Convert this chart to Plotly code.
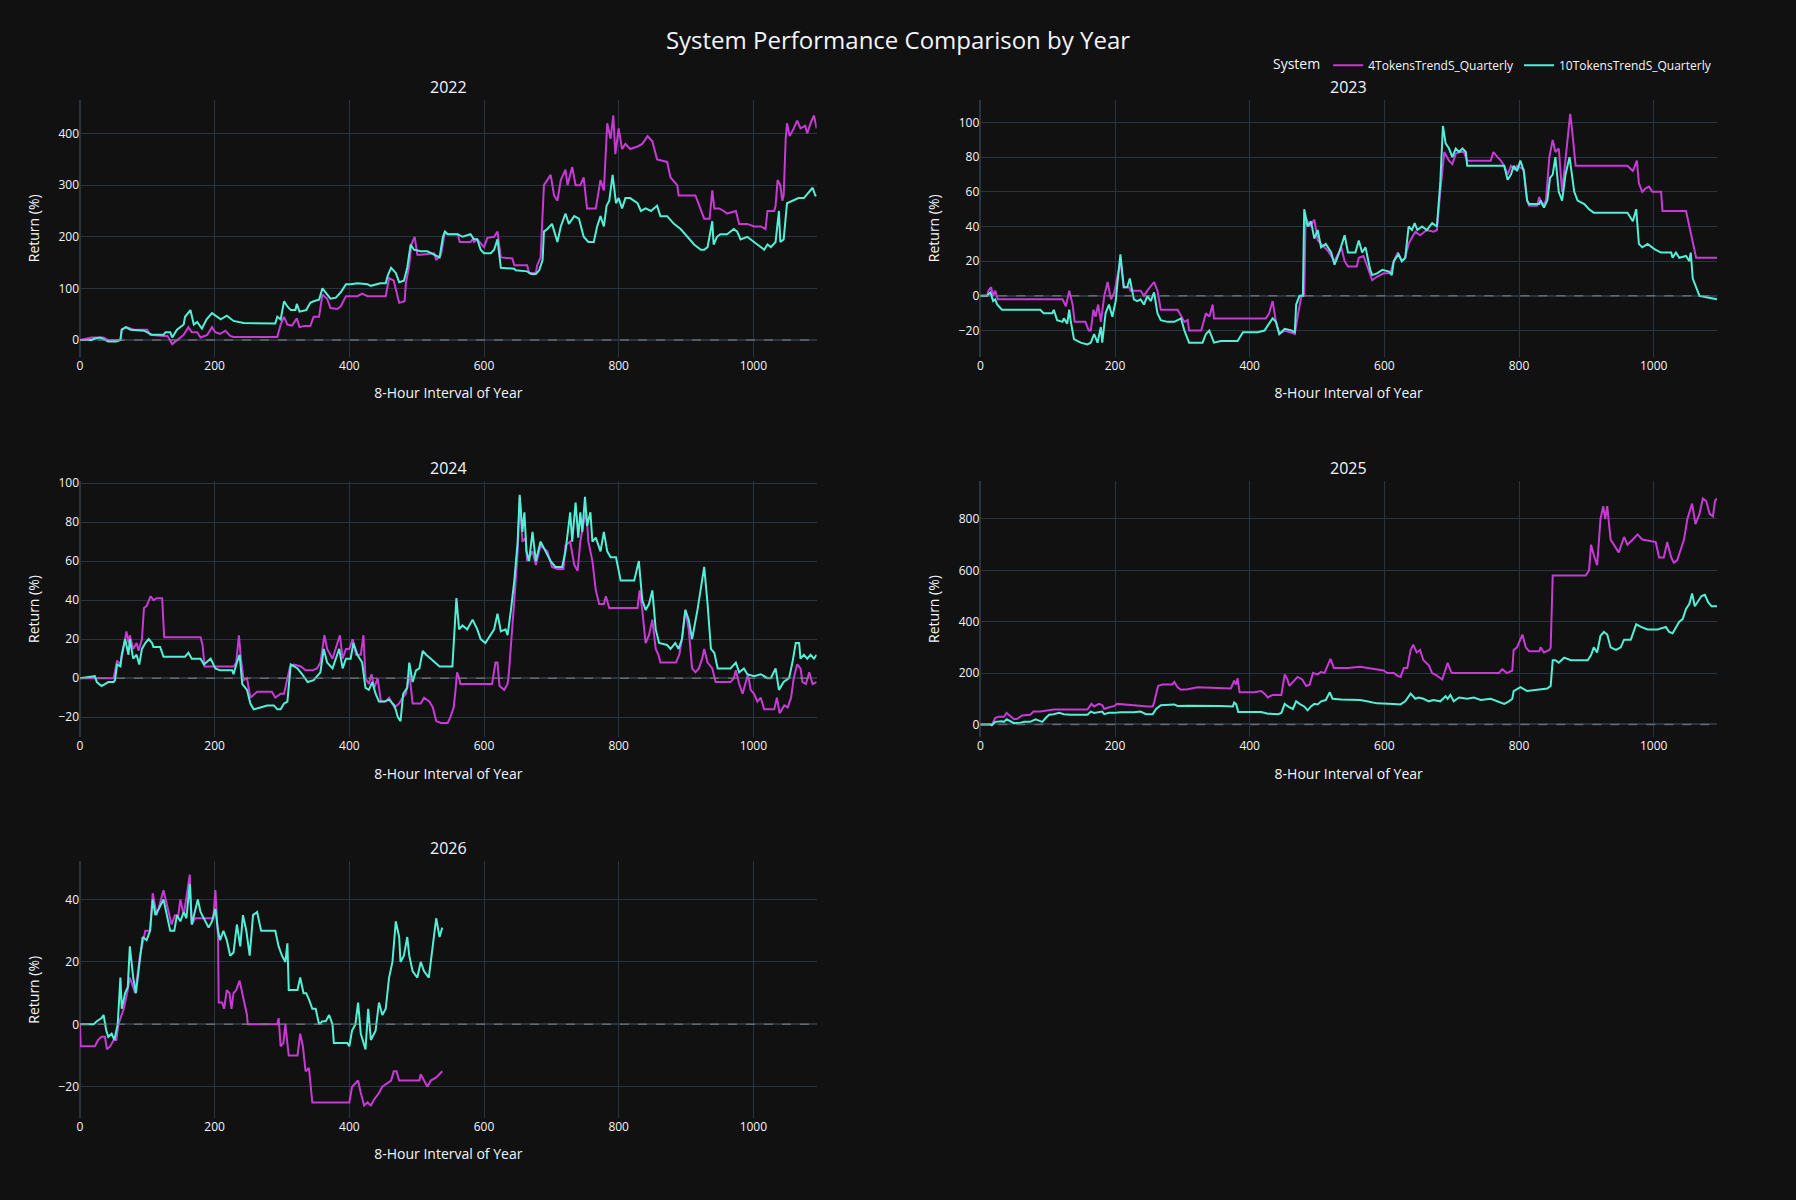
import plotly.graph_objects as go
from plotly.subplots import make_subplots

years = ["2022", "2023", "2024", "2025", "2026"]
systems = ["4TokensTrendS_Quarterly", "10TokensTrendS_Quarterly"]
colors = {"4TokensTrendS_Quarterly": "#c83ad6", "10TokensTrendS_Quarterly": "#52f0d6"}

# ---------------- 2022 ----------------
x22_4 = [0,17,35,42,60,62,69,80,100,104,124,130,137,144,154,161,166,174,179,189,196,201,208,216,223,228,293,298,303,308,315,322,326,333,342,347,355,360,367,372,382,387,395,402,412,419,427,454,459,466,471,474,482,484,489,492,497,501,506,526,529,536,542,546,561,564,580,583,585,590,600,605,615,620,625,642,645,664,667,677,679,684,689,694,699,704,709,714,721,724,731,736,743,748,753,766,773,778,783,788,792,795,800,805,810,817,828,835,843,850,857,872,877,887,889,914,922,927,935,939,942,949,956,961,974,979,991,1001,1011,1018,1021,1031,1033,1036,1040,1043,1045,1048,1050,1054,1060,1065,1070,1077,1080,1085,1090,1094]
y22_4 = [0,5,5,0,0,20,25,20,20,10,8,8,-8,0,10,25,15,15,5,10,25,15,12,18,8,6,6,30,45,30,28,42,25,27,27,45,45,88,80,62,60,65,85,85,85,90,85,85,120,115,90,72,75,110,145,185,200,165,165,168,155,165,210,205,205,190,190,195,190,195,180,198,200,210,160,158,145,145,130,130,145,160,300,310,320,280,270,310,330,300,335,300,300,315,255,255,310,290,420,390,435,360,410,370,380,370,375,380,395,385,350,345,315,300,280,280,250,235,235,290,255,255,250,245,250,225,225,220,220,215,250,250,260,310,300,270,280,390,420,395,410,425,410,415,400,420,435,410]
x22_10 = [0,17,22,30,42,54,60,62,68,75,95,100,107,124,127,134,137,144,154,156,164,169,174,181,188,196,204,209,218,228,243,290,293,298,303,308,313,320,322,326,336,342,347,355,360,365,372,380,387,395,402,412,427,432,446,454,457,462,469,474,481,486,491,496,506,516,526,534,539,542,546,561,568,580,585,590,595,600,610,615,620,625,645,647,664,670,677,682,687,689,694,701,709,714,721,726,734,741,748,755,763,768,773,778,782,786,791,796,800,805,810,817,828,833,840,848,857,862,872,882,892,902,912,922,927,932,939,941,946,951,961,971,976,981,991,1001,1011,1016,1021,1026,1033,1038,1040,1045,1050,1060,1067,1075,1082,1088,1092,1094]
y22_10 = [0,0,3,5,-3,-3,0,20,25,20,18,15,10,10,15,15,5,20,30,45,58,30,35,22,40,52,45,40,47,37,33,32,45,40,75,65,58,58,70,55,58,72,75,78,100,92,80,82,92,108,108,110,108,105,110,110,125,140,130,112,115,140,185,175,172,172,165,160,200,210,205,205,200,205,195,195,175,168,168,175,195,140,138,135,133,128,128,135,155,210,215,225,190,220,245,225,240,235,200,190,190,220,240,220,260,270,320,265,275,255,275,275,265,250,255,250,260,240,240,225,215,200,185,175,175,180,230,185,200,205,205,215,210,195,200,190,180,175,185,180,190,250,190,195,265,270,275,275,285,295,280,280]

# ---------------- 2023 ----------------
x23_4 = [0,10,12,16,19,22,26,122,127,132,137,140,156,161,164,168,171,175,179,184,189,194,199,203,208,213,221,223,238,243,248,258,263,268,293,296,303,308,310,328,335,340,345,347,424,429,434,439,444,452,467,472,477,481,483,490,496,501,506,516,526,536,541,546,559,562,569,574,579,582,589,599,609,614,620,626,631,636,640,646,653,663,673,678,683,689,696,701,706,711,718,723,758,762,768,773,778,783,788,793,797,807,812,815,827,830,835,840,845,850,854,859,864,869,876,879,884,961,969,975,978,983,988,993,998,1011,1013,1048,1053,1058,1063,1094]
y23_4 = [0,0,3,5,0,3,-2,-2,-6,3,-5,-15,-15,-20,-20,-8,-12,-5,-15,0,8,-2,2,10,20,5,5,3,3,0,3,8,3,-8,-8,-10,-15,-14,-20,-20,-10,-12,-5,-13,-13,-10,-3,-15,-22,-20,-22,-10,0,0,45,40,44,32,30,26,20,28,20,17,17,22,23,18,12,9,11,13,13,20,25,20,22,30,33,37,35,38,37,38,60,83,78,76,82,83,83,78,78,83,80,78,75,70,75,73,75,73,55,52,52,57,52,55,80,90,83,85,60,80,105,95,75,75,72,78,65,60,62,63,60,60,49,49,40,30,22,22]
x23_10 = [0,10,12,15,19,22,25,32,89,94,107,109,114,122,124,129,132,134,139,149,159,164,169,174,179,181,186,191,196,201,203,208,213,218,222,228,233,238,243,248,253,258,263,268,278,288,298,303,310,330,335,340,347,357,382,390,412,422,427,434,439,444,452,462,467,469,474,479,481,486,491,496,501,506,513,521,526,533,541,546,557,562,567,572,579,582,589,597,607,611,614,621,626,631,636,641,645,649,656,663,671,678,683,687,691,696,701,706,711,716,721,723,778,780,783,788,792,797,802,807,812,815,830,832,837,842,846,850,854,859,864,869,875,882,887,897,904,911,916,961,969,974,978,983,991,1001,1011,1026,1028,1033,1038,1048,1053,1055,1058,1063,1068,1080,1094]
y23_10 = [0,0,1,2,-3,-2,-5,-8,-8,-10,-10,-8,-14,-15,-13,-16,-8,-14,-25,-27,-28,-27,-22,-27,-18,-27,-10,-5,-12,-3,5,24,5,5,10,-2,-3,-2,-5,0,-3,2,-10,-14,-15,-15,-13,-20,-27,-27,-22,-20,-27,-26,-26,-21,-21,-20,-17,-13,-15,-22,-19,-20,-21,-5,0,0,50,40,43,33,38,28,30,25,18,25,35,25,25,32,25,28,15,12,13,15,14,12,20,24,20,22,40,38,42,38,40,38,42,40,65,98,88,85,80,85,83,85,83,75,75,72,67,70,75,72,78,72,55,53,53,55,51,55,68,70,80,60,55,70,80,60,55,53,50,48,48,48,43,50,30,28,30,27,25,25,22,25,22,23,20,25,10,5,0,-1,-2]

# ---------------- 2024 ----------------
x24_4 = [0,50,55,60,69,72,74,79,84,87,92,95,99,105,109,114,122,125,179,182,185,228,232,236,239,243,248,253,263,285,290,298,303,308,312,318,328,335,345,352,357,363,367,375,380,386,390,395,400,405,410,417,421,424,429,433,437,442,447,454,459,467,474,479,484,489,494,506,511,519,524,529,536,546,550,555,558,560,563,565,612,617,620,623,630,635,637,641,645,650,653,657,662,664,672,677,684,694,701,709,718,721,728,734,739,743,748,752,755,761,766,771,778,781,786,828,831,835,840,845,850,855,859,862,885,890,894,899,904,909,914,919,924,927,932,939,944,966,971,974,979,984,989,992,996,1001,1006,1011,1016,1031,1035,1039,1046,1051,1056,1060,1065,1070,1073,1078,1083,1088,1094]
y24_4 = [0,0,9,7,24,18,22,15,18,14,20,36,37,42,40,41,41,21,21,17,6,6,8,22,10,-1,0,-10,-7,-7,-10,-8,-8,0,6,7,6,4,4,5,8,22,15,10,15,22,10,15,15,20,12,12,22,0,-3,2,-5,0,-12,-12,-10,-15,-13,-10,-8,3,-13,-13,-10,-12,-15,-22,-23,-23,-20,-15,-5,3,0,-3,-3,8,8,-4,-6,-3,3,20,40,65,93,70,72,60,65,58,68,65,57,56,56,68,70,58,55,70,80,85,70,60,45,38,38,42,36,36,45,35,18,22,30,15,12,8,8,12,20,35,25,5,3,5,10,15,8,5,-2,-2,0,4,-3,-8,-2,2,-6,-8,-12,-10,-16,-16,-10,-18,-14,-15,-10,0,7,5,-2,-3,3,-3,-2]
x24_10 = [0,22,25,32,37,42,50,52,55,60,62,67,72,74,79,84,88,92,97,102,107,109,119,124,156,161,166,179,184,194,201,208,226,228,233,237,241,248,253,258,268,278,288,293,298,303,308,313,318,323,330,338,347,357,362,367,375,380,385,390,395,402,406,412,419,424,429,434,439,444,452,459,467,472,476,480,486,489,494,499,504,509,514,521,528,534,553,557,559,563,568,575,583,590,595,602,609,615,620,625,632,635,640,645,650,653,657,660,663,667,672,677,684,692,699,706,716,721,728,731,736,740,743,746,750,753,758,761,766,773,778,783,788,796,803,823,830,835,840,845,850,855,860,872,877,884,889,894,899,904,909,917,922,927,932,937,942,947,966,974,979,986,991,1001,1011,1021,1026,1033,1038,1045,1053,1058,1063,1068,1070,1075,1080,1085,1090,1094]
y24_10 = [0,1,-2,-4,-3,-2,-2,-1,7,6,12,20,12,20,10,12,7,15,18,20,18,16,16,11,11,13,10,10,7,10,5,4,4,2,8,12,-3,-6,-13,-16,-15,-14,-14,-16,-16,-13,-12,7,6,5,2,-2,-1,3,15,8,5,10,15,5,10,10,18,12,8,-5,-6,-2,-8,-12,-12,-11,-14,-20,-22,-8,-5,8,-2,4,5,14,12,10,8,6,6,28,41,25,27,25,30,25,20,18,22,25,33,24,25,22,35,50,70,94,75,85,65,60,75,60,70,65,60,57,57,65,85,70,90,72,85,75,93,78,85,70,72,65,75,65,62,62,50,50,60,40,35,38,45,25,18,17,15,18,15,20,35,30,20,35,45,57,38,15,13,5,5,8,3,5,2,1,2,0,0,5,-6,-2,0,8,18,18,10,12,10,12,10,12]

# ---------------- 2025 ----------------
x25_4 = [0,15,17,22,27,35,39,44,50,55,62,74,79,89,99,109,159,165,169,176,181,184,189,199,203,218,228,248,256,258,264,270,285,288,293,298,308,323,357,372,377,380,382,385,407,417,422,427,434,447,452,456,459,464,471,478,484,489,494,501,506,511,516,520,525,546,564,574,584,599,604,614,619,624,629,634,639,643,648,653,658,666,671,678,686,691,694,699,701,770,775,782,790,792,797,805,810,815,830,832,837,845,847,850,899,904,907,911,916,921,925,928,931,936,941,948,956,961,969,976,983,1003,1008,1015,1020,1026,1030,1035,1040,1045,1050,1057,1062,1068,1073,1078,1083,1088,1091,1094]
y25_4 = [0,0,-3,25,30,30,45,35,20,22,35,38,50,50,55,58,58,80,70,80,75,60,65,72,80,78,75,70,70,85,150,155,155,165,145,135,137,145,140,140,170,155,180,125,125,130,120,105,115,115,195,175,150,165,185,175,150,155,200,195,205,200,230,255,220,220,225,220,215,210,200,200,190,185,220,220,290,310,280,290,250,230,200,190,175,215,240,205,200,200,215,200,210,290,300,350,300,285,285,300,280,290,300,580,580,600,700,660,620,800,850,800,850,720,700,670,730,700,720,740,720,710,650,650,710,650,630,640,680,720,800,860,780,820,880,870,820,810,870,880]
x25_10 = [0,15,17,22,32,35,39,45,50,60,65,74,82,87,92,97,102,109,117,124,134,159,164,169,181,184,191,199,208,228,238,246,256,261,268,288,293,308,333,357,375,377,380,383,417,427,442,447,452,457,464,469,474,481,486,491,496,501,506,513,519,523,536,564,574,589,614,624,631,639,646,651,658,666,673,683,691,694,698,703,711,723,733,743,758,768,778,785,790,792,802,812,827,842,847,850,854,859,867,877,902,907,911,916,921,926,931,936,944,951,956,966,974,981,991,1006,1018,1023,1028,1033,1038,1043,1048,1053,1057,1061,1066,1071,1076,1081,1086,1094]
y25_10 = [0,0,-3,10,12,10,20,10,5,7,10,10,20,15,10,25,38,40,45,40,38,38,50,45,50,40,45,45,47,47,50,40,40,60,75,78,72,73,73,72,70,85,78,48,48,42,40,45,80,70,60,90,80,70,55,70,80,78,90,95,125,100,97,95,90,82,80,78,90,120,100,105,100,90,95,90,110,100,115,90,105,100,105,95,100,90,80,90,100,130,145,130,135,140,150,250,250,240,260,250,250,270,300,280,345,360,350,300,290,300,330,330,390,380,370,370,380,360,355,380,400,410,450,470,510,460,480,500,505,475,460,460]

# ---------------- 2026 ----------------
x26_4 = [0,1,22,27,32,37,40,45,50,54,57,65,70,74,82,89,97,104,108,114,124,129,136,141,146,149,154,163,166,171,198,201,205,206,211,214,218,222,225,228,232,237,241,244,248,249,293,295,298,302,305,310,323,327,331,335,340,345,397,400,404,408,413,417,422,427,432,437,444,449,456,462,466,470,474,504,506,511,516,521,529,538]
y26_4 = [0,-7,-7,-5,-4,-4,-8,-7,-5,-5,0,5,10,15,10,22,30,30,42,35,43,38,32,35,35,40,35,48,32,34,34,43,28,7,7,5,11,10,5,10,11,14,10,8,3,0,0,2,-7,-6,0,-10,-10,-3,-7,-15,-14,-25,-25,-25,-20,-19,-18,-22,-26,-25,-26,-24,-22,-20,-19,-18,-15,-15,-18,-18,-16,-18,-20,-18,-17,-15]
x26_10 = [0,20,25,32,35,39,42,47,51,56,60,62,67,71,74,79,83,88,93,99,104,108,112,117,124,129,134,140,144,149,154,158,163,166,171,175,179,186,191,196,201,205,208,213,218,223,228,233,238,242,247,252,257,263,269,290,295,300,305,308,310,323,327,332,336,340,345,350,355,360,365,370,375,377,397,400,404,409,413,417,424,428,432,439,444,449,454,459,464,469,474,476,481,486,489,494,501,506,511,518,523,529,534,538]
y26_10 = [0,0,1,2,3,-2,-4,-3,-5,0,15,5,10,12,25,15,10,20,28,27,30,40,35,37,40,35,30,30,35,33,36,34,45,32,37,40,36,33,31,33,37,30,27,30,27,22,23,32,25,35,30,22,35,36,30,30,25,22,20,26,11,11,15,10,10,8,5,5,0,1,1,3,0,-6,-6,-7,-2,0,7,-3,-8,5,-5,-2,7,3,5,15,20,33,28,20,22,28,22,17,15,20,17,15,24,34,28,31]

data = {
    "2022": {"4TokensTrendS_Quarterly": (x22_4, y22_4), "10TokensTrendS_Quarterly": (x22_10, y22_10)},
    "2023": {"4TokensTrendS_Quarterly": (x23_4, y23_4), "10TokensTrendS_Quarterly": (x23_10, y23_10)},
    "2024": {"4TokensTrendS_Quarterly": (x24_4, y24_4), "10TokensTrendS_Quarterly": (x24_10, y24_10)},
    "2025": {"4TokensTrendS_Quarterly": (x25_4, y25_4), "10TokensTrendS_Quarterly": (x25_10, y25_10)},
    "2026": {"4TokensTrendS_Quarterly": (x26_4, y26_4), "10TokensTrendS_Quarterly": (x26_10, y26_10)},
}
y_ranges = {"2022": [-32, 465], "2023": [-35, 113], "2024": [-30.3, 101.2], "2025": [-50, 949], "2026": [-30, 52.2]}
x_range = [0, 1094]

fig = make_subplots(rows=3, cols=2, subplot_titles=years,
                    horizontal_spacing=0.1, vertical_spacing=0.122)

for i, yr in enumerate(years):
    r, c = i // 2 + 1, i % 2 + 1
    for s in systems:
        xs, ys = data[yr][s]
        fig.add_trace(go.Scatter(x=xs, y=ys, mode="lines", name=s, legendgroup=s,
                                 showlegend=(i == 0),
                                 line=dict(color=colors[s], width=2)),
                      row=r, col=c)
    fig.add_hline(y=0, line_dash="dash", line_color="gray", line_width=1.5, opacity=0.7, row=r, col=c)
    fig.update_xaxes(title_text="8-Hour Interval of Year", range=x_range, row=r, col=c)
    fig.update_yaxes(title_text="Return (%)", range=y_ranges[yr], row=r, col=c)

fig.update_layout(
    template="plotly_dark",
    width=1796, height=1200,
    margin=dict(l=80, r=79, t=100, b=82),
    title=dict(text="System Performance Comparison by Year", x=0.5, xanchor="center",
               y=0.966, yanchor="middle", font=dict(size=24)),
    legend=dict(orientation="h", yanchor="bottom", y=1.02, xanchor="right", x=1,
                title=dict(text="System")),
)

fig.write_html("out.html")
